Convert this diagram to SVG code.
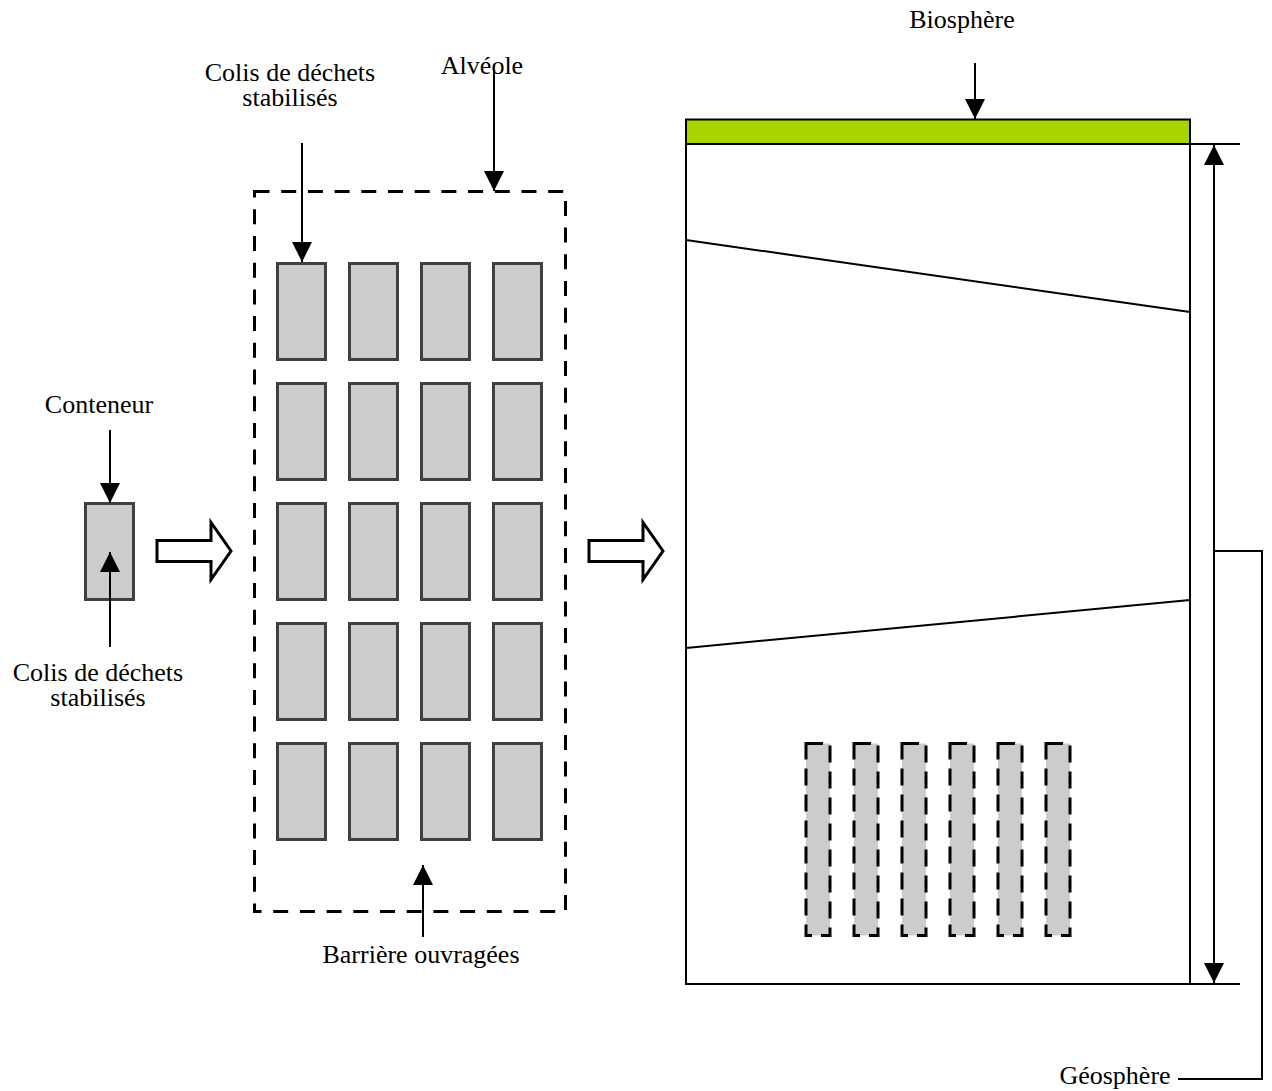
<svg xmlns="http://www.w3.org/2000/svg" width="1272" height="1091" viewBox="0 0 1272 1091">
  <defs>
    <marker id="head" viewBox="0 0 20 20" refX="20" refY="10" markerWidth="20" markerHeight="20" markerUnits="userSpaceOnUse" orient="auto-start-reverse">
      <path d="M0,0 L20,10 L0,20 Z" fill="#000"/>
    </marker>
    <rect id="colis" width="48" height="96"/>
    <rect id="bar" width="24" height="192"/>
  </defs>
  <style>
    text { font-family: "Times New Roman", Times, "Nimbus Roman", "DejaVu Serif", serif; font-size: 26px; fill: #000; text-anchor: middle; }
    .colis { fill: #cccccc; stroke: #404040; stroke-width: 3; }
    .alveole { fill: none; stroke: #000; stroke-width: 3; stroke-dasharray: 15 11.7; }
    .bar { fill: #cccccc; stroke: #000; stroke-width: 3; stroke-dasharray: 17 9; }
    .hollow { fill: #fff; stroke: #000; stroke-width: 3; stroke-linejoin: miter; }
    .ptr { fill: none; stroke: #000; stroke-width: 2; marker-end: url(#head); }
    .edge { fill: none; stroke: #000; stroke-width: 2; }
  </style>
  <rect width="1272" height="1091" fill="#fff"/>

  <!-- single container -->
  <g id="conteneur">
    <use href="#colis" class="colis" x="85.5" y="503.5"/>
    <text x="99" y="413">Conteneur</text>
  </g>
  <g id="colis-label-left">
    <text x="98" y="681">Colis de déchets<tspan x="98" dy="25">stabilisés</tspan></text>
  </g>

  <!-- cell holding a 4 x 5 grid of packages -->
  <g id="alveole">
    <rect class="alveole" x="254.5" y="191.5" width="311" height="720"/>
    <g id="colis-grid" class="colis">
      <use href="#colis" x="277.5" y="263.5"/><use href="#colis" x="349.5" y="263.5"/><use href="#colis" x="421.5" y="263.5"/><use href="#colis" x="493.5" y="263.5"/>
      <use href="#colis" x="277.5" y="383.5"/><use href="#colis" x="349.5" y="383.5"/><use href="#colis" x="421.5" y="383.5"/><use href="#colis" x="493.5" y="383.5"/>
      <use href="#colis" x="277.5" y="503.5"/><use href="#colis" x="349.5" y="503.5"/><use href="#colis" x="421.5" y="503.5"/><use href="#colis" x="493.5" y="503.5"/>
      <use href="#colis" x="277.5" y="623.5"/><use href="#colis" x="349.5" y="623.5"/><use href="#colis" x="421.5" y="623.5"/><use href="#colis" x="493.5" y="623.5"/>
      <use href="#colis" x="277.5" y="743.5"/><use href="#colis" x="349.5" y="743.5"/><use href="#colis" x="421.5" y="743.5"/><use href="#colis" x="493.5" y="743.5"/>
    </g>
    <text x="482" y="74">Alvéole</text>
  </g>
  <g id="colis-label-top">
    <text x="290" y="81">Colis de déchets<tspan x="290" dy="25">stabilisés</tspan></text>
  </g>
  <g id="barriere-label">
    <text x="421" y="963">Barrière ouvragées</text>
  </g>

  <!-- site: biosphere layer over geological layers -->
  <g id="site">
    <rect id="biosphere" x="686" y="119.5" width="504" height="24.5" fill="#a8d400" stroke="#000" stroke-width="2"/>
    <rect id="geosphere" x="686" y="144" width="504" height="840" fill="none" stroke="#000" stroke-width="2"/>
    <line class="edge" x1="686" y1="240" x2="1190" y2="312" stroke-width="1.8"/>
    <line class="edge" x1="686" y1="648" x2="1190" y2="600" stroke-width="1.8"/>
    <g id="stockage">
      <use href="#bar" class="bar" x="806" y="743.5"/>
      <use href="#bar" class="bar" x="854" y="743.5"/>
      <use href="#bar" class="bar" x="902" y="743.5"/>
      <use href="#bar" class="bar" x="950" y="743.5"/>
      <use href="#bar" class="bar" x="998" y="743.5"/>
      <use href="#bar" class="bar" x="1046" y="743.5"/>
    </g>
    <text x="962" y="28">Biosphère</text>
  </g>
  <g id="geosphere-label">
    <text x="1115" y="1084">Géosphère</text>
  </g>

  <!-- connectors -->
  <g id="connectors">
    <line class="ptr" x1="110" y1="430" x2="110" y2="503"/>
    <line class="ptr" x1="110" y1="647" x2="110" y2="552"/>
    <line class="ptr" x1="302" y1="143" x2="302" y2="262"/>
    <line class="ptr" x1="494" y1="70" x2="494" y2="191"/>
    <line class="ptr" x1="423" y1="937" x2="423" y2="865"/>
    <line class="ptr" x1="975" y1="63" x2="975" y2="119"/>
    <line class="edge" x1="1190" y1="144" x2="1240" y2="144"/>
    <line class="edge" x1="1190" y1="984" x2="1240" y2="984"/>
    <line class="ptr" x1="1214" y1="145" x2="1214" y2="983" style="marker-start: url(#head)"/>
    <path class="edge" d="M1214,551 H1262 V1079 H1178"/>
    <path class="hollow" d="M157,540.5 H211 V522.5 L231,551 L211,579.5 V561.5 H157 Z"/>
    <path class="hollow" d="M589,540.5 H643 V522.5 L663,551 L643,579.5 V561.5 H589 Z"/>
  </g>
</svg>
